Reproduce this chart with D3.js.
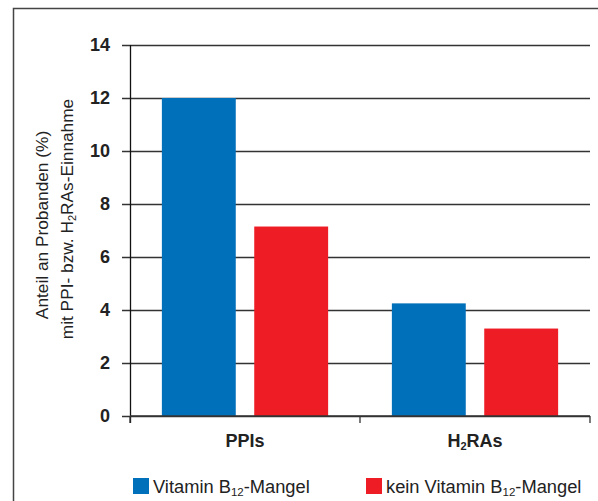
<!DOCTYPE html>
<html><head><meta charset="utf-8">
<script src="https://cdn.jsdelivr.net/npm/d3@7/dist/d3.min.js"></script>
<style>body{margin:0;background:#fff}svg{display:block;font-family:"Liberation Sans",Arial,Helvetica,sans-serif}</style>
</head><body><svg id="c" width="598" height="501"></svg>
<script>
const categories = ["PPIs", "H2RAs"];
const seriesNames = ["Vitamin B12-Mangel", "kein Vitamin B12-Mangel"];
const valuesB12 = [12, 4.25];
const valuesNoB12 = [7.15, 3.3];
const yTicks = [0, 2, 4, 6, 8, 10, 12, 14];
const colors = ["#0070ba", "#ee1c25"];

const svg = d3.select("#c");
const FF = "Liberation Sans, Arial, sans-serif";
const m = {l:130, r:590, t:45, b:416};
const x0 = d3.scaleBand().domain(categories).range([m.l, m.r]).paddingInner(0).paddingOuter(0);
const x1 = d3.scaleBand().domain([0,1]).range([0, x0.bandwidth()]).paddingInner(0.2).paddingOuter(0.345);
const y = d3.scaleLinear().domain([0,14]).range([m.b, m.t]);

// frame
svg.append("path").attr("d", `M13.5,501 L13.5,8.5 L598,8.5`).attr("fill","none").attr("stroke","#444").attr("stroke-width",1.5);

// gridlines + y axis
const yAxis = d3.axisLeft(y).tickValues(yTicks).tickSize(-(m.r - m.l)).tickSizeOuter(0).tickPadding(20);
const gy = svg.append("g").attr("transform", `translate(${m.l},0)`).call(yAxis);
gy.select(".domain").remove();
gy.selectAll(".tick line").attr("stroke","#333").attr("stroke-width",1.3).attr("x1",-8);
gy.selectAll(".tick text").attr("font-size",18).attr("font-weight","bold").attr("fill","#222").attr("font-family",FF);

// bars
const data = categories.map((c,i)=>({c, v:[valuesB12[i], valuesNoB12[i]]}));
svg.append("g").selectAll("g").data(data).join("g")
  .attr("transform", d=>`translate(${x0(d.c)},0)`)
  .selectAll("rect").data(d=>d.v.map((v,j)=>({v,j}))).join("rect")
  .attr("x", d=>x1(d.j)).attr("width", x1.bandwidth())
  .attr("y", d=>y(d.v)).attr("height", d=>y(0)-y(d.v))
  .attr("fill", d=>colors[d.j]);

// y axis line
svg.append("line").attr("x1",m.l+0.5).attr("x2",m.l+0.5).attr("y1",m.t).attr("y2",m.b+7).attr("stroke","#111").attr("stroke-width",1.3);

// x axis
const gx = svg.append("g").attr("transform", `translate(0,${m.b})`);
gx.append("line").attr("x1",m.l).attr("x2",m.r).attr("y1",0).attr("y2",0).attr("stroke","#333").attr("stroke-width",1.3);
const bounds = [m.l, ...categories.map(c=>x0(c)+x0.bandwidth())];
gx.selectAll("line.t").data(bounds).join("line").attr("class","t")
  .attr("x1",d=>d).attr("x2",d=>d).attr("y1",0).attr("y2",7).attr("stroke","#333").attr("stroke-width",1.3);
const labels = gx.selectAll("text").data(categories).join("text")
  .attr("x", d=>x0(d)+x0.bandwidth()/2).attr("y", 31)
  .attr("text-anchor","middle").attr("font-size",18).attr("font-weight","bold").attr("fill","#222");
labels.each(function(d){
  const t = d3.select(this);
  if (d === "H2RAs") {
    t.append("tspan").text("H");
    t.append("tspan").text("2").attr("font-size",11).attr("dy",3);
    t.append("tspan").text("RAs").attr("dy",-3);
  } else t.text(d);
});

// y title
svg.append("text").attr("transform","translate(48,225) rotate(-90)").attr("text-anchor","middle")
  .attr("font-size",17.3).attr("fill","#222").text("Anteil an Probanden (%)");
const t2 = svg.append("text").attr("transform","translate(73,219) rotate(-90)").attr("text-anchor","middle")
  .attr("font-size",17.3).attr("fill","#222");
t2.append("tspan").text("mit PPI- bzw. H");
t2.append("tspan").text("2").attr("font-size",11).attr("dy",3);
t2.append("tspan").text("RAs-Einnahme").attr("dy",-3);

// legend
const leg = [{x:133, name:seriesNames[0], c:colors[0]}, {x:366, name:seriesNames[1], c:colors[1]}];
leg.forEach(l=>{
  svg.append("rect").attr("x",l.x).attr("y",478).attr("width",16).attr("height",16).attr("fill",l.c);
  const t = svg.append("text").attr("x",l.x+20).attr("y",493).attr("font-size",18.3).attr("fill","#222");
  const parts = l.name.split("B12");
  t.append("tspan").text(parts[0]+"B");
  t.append("tspan").text("12").attr("font-size",11.5).attr("dy",3);
  t.append("tspan").text(parts[1]).attr("dy",-3);
});
</script></body></html>
